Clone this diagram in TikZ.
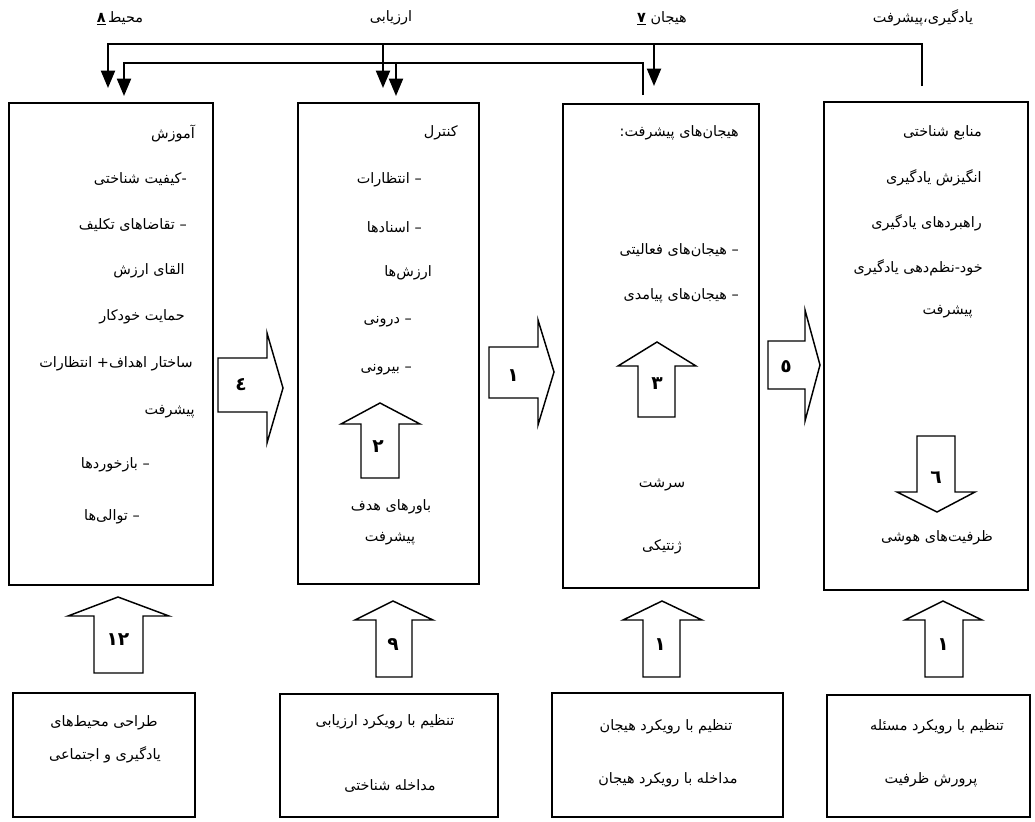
\documentclass[tikz,border=0pt]{standalone}
\usepackage{fontspec}
\newfontfamily\fa[Script=Arabic]{DejaVu Sans}
\TeXXeTstate=1
\usetikzlibrary{arrows.meta}
\newcommand\RLtext[1]{\beginR #1\endR}
\newcommand\zw{^^^^200c}
\begin{document}
\begin{tikzpicture}[x=0.75pt,y=-0.75pt,
  box/.style={draw, line width=1.4pt, inner sep=0pt},
  txt/.style={font=\fa\fontsize{10.8}{12}\selectfont, inner sep=0pt},
  num/.style={font=\fa\bfseries\fontsize{14}{16}\selectfont, inner sep=0pt},
  conn/.style={line width=1.5pt},
  arr/.style={conn, -{Triangle[length=13pt,width=10.5pt]}},
  blk/.style={draw, line width=1.1pt, line join=miter}]
\useasboundingbox (0,0) rectangle (1035,821);

% main boxes
\node[box, minimum width=153pt, minimum height=361.5pt] (B1) at (111,344) {};
\node[box, minimum width=135.75pt, minimum height=360.75pt] (B2) at (388.5,343.5) {};
\node[box, minimum width=147pt, minimum height=363pt] (B3) at (661,346) {};
\node[box, minimum width=153pt, minimum height=366pt] (B4) at (926,346) {};
% bottom boxes
\node[box, minimum width=136.5pt, minimum height=93pt] (C1) at (104,755) {};
\node[box, minimum width=163.5pt, minimum height=92.25pt] (C2) at (389,755.5) {};
\node[box, minimum width=173.25pt, minimum height=93pt] (C3) at (667.5,755) {};
\node[box, minimum width=152.25pt, minimum height=91.5pt] (C4) at (928.5,756) {};

% top labels
\node[txt] (t1) at (120,18) {\RLtext{محیط\,\underline{\textbf{۸}}}};
\node[txt] (t2) at (391,18) {\RLtext{ارزیابی}};
\node[txt] (t3) at (662,18) {\RLtext{هیجان \underline{\textbf{۷}}}};
\node[txt] (t4) at (923,18) {\RLtext{یادگیری،پیشرفت}};

% top connectors
\coordinate (uA) at (108,44);
\coordinate (uB) at (922,86);
\coordinate (uAt) at (108,88);
\coordinate (uC) at (383,44);
\coordinate (uCt) at (383,88);
\coordinate (uD) at (654,44);
\coordinate (uDt) at (654,86);
\coordinate (lA) at (124,63);
\coordinate (lB) at (643,95);
\coordinate (lAt) at (124,96);
\coordinate (lC) at (396,63);
\coordinate (lCt) at (396,96);
\draw[arr] (uB) |- (uA) -- (uAt);
\draw[arr] (uC) -- (uCt);
\draw[arr] (uD) -- (uDt);
\draw[arr] (lB) |- (lA) -- (lAt);
\draw[arr] (lC) -- (lCt);

% box 1 text
\node[txt, anchor=east] (a1) at (195,133) {\RLtext{آموزش}};
\node[txt, anchor=east] (a2) at (187,179) {\RLtext{\hbox{-}کیفیت شناختی}};
\node[txt, anchor=east] (a3) at (187,225) {\RLtext{\hbox{–} تقاضاهای تکلیف}};
\node[txt, anchor=east] (a4) at (185,271) {\RLtext{القای ارزش}};
\node[txt, anchor=east] (a5) at (185,317) {\RLtext{حمایت خودکار}};
\node[txt, anchor=east] (a6) at (193,364) {\RLtext{ساختار اهداف\hbox{+} انتظارات}};
\node[txt, anchor=east] (a7) at (195,412) {\RLtext{پیشرفت}};
\node[txt, anchor=east] (a8) at (150,465) {\RLtext{\hbox{–} بازخوردها}};
\node[txt, anchor=east] (a9) at (140,517) {\RLtext{\hbox{–} توالی\zw ها}};

% box 2 text
\node[txt, anchor=east] (b1) at (458,133) {\RLtext{کنترل}};
\node[txt, anchor=east] (b2) at (422,180) {\RLtext{\hbox{–} انتظارات}};
\node[txt, anchor=east] (b3) at (422,227) {\RLtext{\hbox{–} اسنادها}};
\node[txt, anchor=east] (b4) at (432,273) {\RLtext{ارزش\zw ها}};
\node[txt, anchor=east] (b5) at (412,322) {\RLtext{\hbox{–} درونی}};
\node[txt, anchor=east] (b6) at (412,370) {\RLtext{\hbox{–} بیرونی}};
\node[txt] (b7) at (391,507) {\RLtext{باورهای هدف}};
\node[txt] (b8) at (390,539) {\RLtext{پیشرفت}};

% box 3 text
\node[txt, anchor=east] (c1) at (739,133) {\RLtext{هیجان\zw های پیشرفت\hbox{:}}};
\node[txt, anchor=east] (c2) at (739,250) {\RLtext{\hbox{–} هیجان\zw های فعالیتی}};
\node[txt, anchor=east] (c3) at (739,296) {\RLtext{\hbox{–} هیجان\zw های پیامدی}};
\node[txt] (c4) at (662,485) {\RLtext{سرشت}};
\node[txt] (c5) at (662,547) {\RLtext{ژنتیکی}};

% box 4 text
\node[txt, anchor=east] (d1) at (982,133) {\RLtext{منابع شناختی}};
\node[txt, anchor=east] (d2) at (982,178) {\RLtext{انگیزش یادگیری}};
\node[txt, anchor=east] (d3) at (982,223) {\RLtext{راهبردهای یادگیری}};
\node[txt, anchor=east] (d4) at (983,268) {\RLtext{خود\hbox{-}نظم\zw دهی یادگیری}};
\node[txt, anchor=east] (d5) at (973,312) {\RLtext{پیشرفت}};
\node[txt] (d6) at (937,538) {\RLtext{ظرفیت\zw های هوشی}};

% bottom texts
\node[txt] (e1) at (104,723) {\RLtext{طراحی محیط\zw های}};
\node[txt] (e2) at (105,755) {\RLtext{یادگیری و اجتماعی}};
\node[txt] (f1) at (385,722) {\RLtext{تنظیم با رویکرد ارزیابی}};
\node[txt] (f2) at (390,786) {\RLtext{مداخله شناختی}};
\node[txt] (g1) at (666,727) {\RLtext{تنظیم با رویکرد هیجان}};
\node[txt] (g2) at (668,780) {\RLtext{مداخله با رویکرد هیجان}};
\node[txt] (h1) at (937,727) {\RLtext{تنظیم با رویکرد مسئله}};
\node[txt] (h2) at (931,780) {\RLtext{پرورش ظرفیت}};

% block arrows right
\draw[blk] (218,358)--(267,358)--(267,333)--(283,388)--(267,443)--(267,412)--(218,412)--cycle;
\node[num] (n4) at (241,385) {٤};
\draw[blk] (489,347)--(538,347)--(538,320)--(554,372)--(538,425)--(538,398)--(489,398)--cycle;
\node[num] (n1b) at (513,376) {۱};
\draw[blk] (768,341)--(805,341)--(805,310)--(820,365)--(805,421)--(805,389)--(768,389)--cycle;
\node[num] (n5) at (786,367) {٥};

% inner arrows
\draw[blk] (361,478)--(361,424)--(341,424)--(380,403)--(420,424)--(399,424)--(399,478)--cycle;
\node[num] (n2) at (378,447) {۲};
\draw[blk] (638,417)--(638,366)--(618,366)--(657,342)--(696,366)--(675,366)--(675,417)--cycle;
\node[num] (n3) at (657,384) {۳};
\draw[blk] (917,436)--(955,436)--(955,492)--(975,492)--(937,512)--(897,492)--(917,492)--cycle;
\node[num] (n6) at (936,478) {٦};

% bottom up arrows
\draw[blk] (94,673)--(94,616)--(68,616)--(118,597)--(169,616)--(143,616)--(143,673)--cycle;
\node[num] (n12) at (118,640) {۱۲};
\draw[blk] (376,677)--(376,620)--(355,620)--(393,601)--(433,620)--(412,620)--(412,677)--cycle;
\node[num] (n9) at (393,645) {۹};
\draw[blk] (643,677)--(643,620)--(623,620)--(662,601)--(702,620)--(680,620)--(680,677)--cycle;
\node[num] (n1c) at (660,645) {۱};
\draw[blk] (925,677)--(925,620)--(905,620)--(943,601)--(982,620)--(963,620)--(963,677)--cycle;
\node[num] (n1d) at (943,645) {۱};
\end{tikzpicture}
\end{document}
